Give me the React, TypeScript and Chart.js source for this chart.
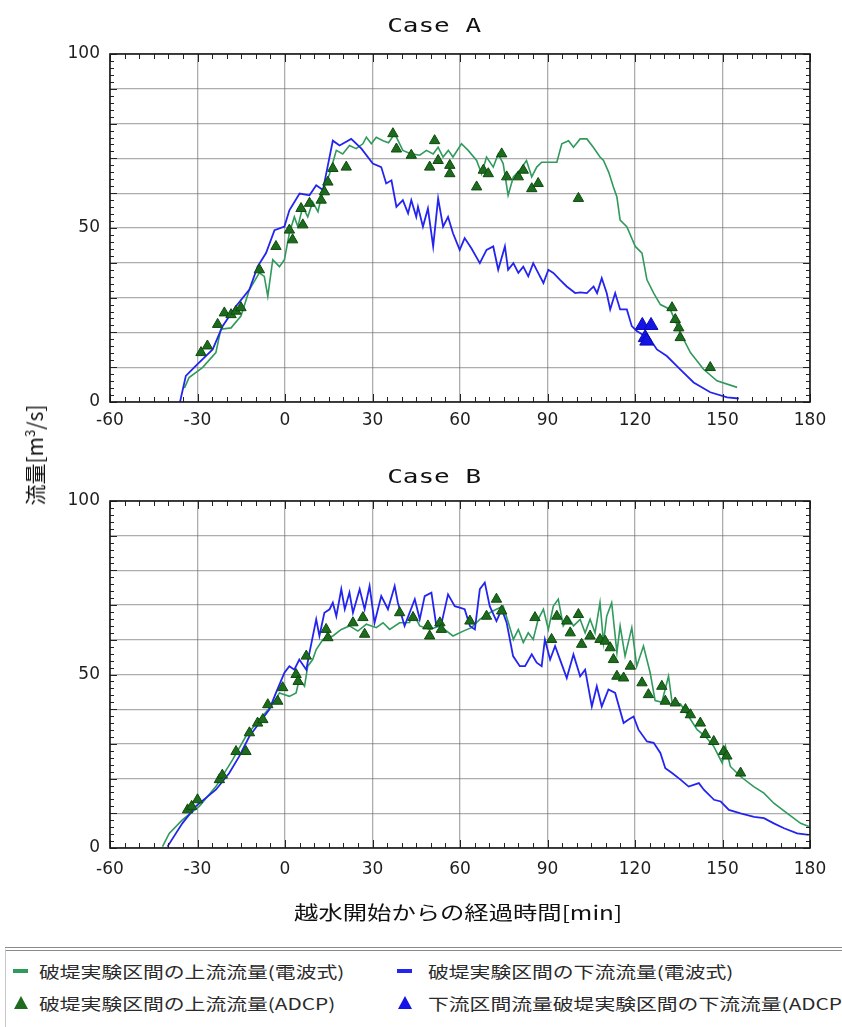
import React, { useEffect, useRef } from 'react';
import { Chart, registerables } from 'chart.js';

Chart.register(...registerables);

// ---------- Case A ----------
const caseA_upLineT = [-34.5, -32.9, -28.3, -23.7, -22.0, -18.5, -15.1, -12.2, -8.8, -7.1, -5.9, -4.2, -1.9, -0.2, 1.5, 3.2, 4.4, 6.1, 7.8, 9.5, 11.3, 13.0, 15.3, 17.6, 19.8, 22.1, 24.4, 26.7, 27.9, 29.6, 31.3, 33.6, 35.5, 37.6, 40.4, 43.3, 46.2, 48.5, 50.8, 52.5, 54.2, 56.0, 57.6, 60.5, 62.8, 65.7, 67.4, 69.1, 71.4, 73.1, 74.8, 76.5, 78.3, 80.5, 82.8, 84.6, 86.3, 88.0, 90.3, 93.2, 94.9, 97.2, 98.9, 101.2, 103.5, 105.7, 108.0, 109.2, 111.0, 112.6, 113.8, 114.9, 117.2, 120.1, 122.4, 124.1, 126.4, 128.7, 132.1, 135.5, 139.0, 143.5, 148.1, 155.0];
const caseA_upLineQ = [4.0, 7.0, 9.9, 14.2, 20.9, 21.3, 24.7, 32.3, 37.1, 36.1, 30.4, 40.9, 38.9, 40.9, 48.5, 53.2, 50.4, 56.1, 53.2, 57.5, 54.7, 60.9, 65.6, 72.3, 71.3, 73.7, 72.8, 74.2, 76.1, 74.2, 76.1, 75.1, 74.5, 77.1, 72.3, 71.3, 70.9, 72.3, 71.3, 73.2, 70.4, 72.3, 70.4, 74.2, 72.3, 69.4, 65.6, 70.4, 67.5, 71.3, 68.5, 59.4, 64.7, 66.6, 69.4, 64.7, 67.5, 68.9, 68.9, 68.9, 74.2, 75.1, 73.2, 75.6, 75.6, 73.2, 70.4, 69.4, 66.0, 61.8, 58.9, 52.3, 50.4, 44.7, 42.8, 35.1, 31.3, 28.0, 26.6, 19.9, 14.2, 9.4, 6.1, 4.2];

const caseA_downLineT = [-36.0, -34.0, -30.6, -24.8, -21.4, -16.8, -12.2, -9.4, -6.5, -3.6, -0.2, 1.5, 5.0, 8.4, 10.7, 13.0, 16.4, 18.7, 22.7, 26.2, 30.1, 33.0, 34.7, 36.5, 38.2, 40.4, 42.2, 43.3, 45.0, 45.6, 47.3, 49.0, 50.8, 52.5, 54.2, 55.9, 57.6, 59.9, 61.6, 63.9, 66.8, 69.1, 71.4, 73.1, 75.4, 76.5, 78.3, 80.0, 81.7, 83.4, 85.1, 86.8, 88.6, 90.3, 92.0, 94.3, 96.6, 99.5, 101.2, 103.5, 105.8, 107.0, 108.6, 110.3, 111.5, 113.2, 114.9, 117.2, 118.9, 120.6, 125.2, 127.5, 130.9, 135.5, 140.1, 145.8, 151.6, 155.6];
const caseA_downLineQ = [0.0, 7.5, 10.4, 15.1, 21.8, 27.5, 32.3, 38.9, 42.8, 49.4, 50.4, 55.1, 59.9, 59.4, 62.3, 60.9, 75.1, 73.7, 75.6, 72.8, 68.5, 67.5, 62.8, 63.7, 56.1, 58.0, 54.2, 58.0, 53.2, 56.1, 50.4, 55.6, 44.7, 58.5, 50.4, 53.2, 48.5, 43.7, 47.1, 44.2, 39.9, 43.7, 44.7, 38.0, 44.7, 38.0, 39.9, 37.1, 38.9, 36.1, 39.9, 37.1, 34.2, 38.0, 37.1, 35.1, 33.2, 31.3, 31.5, 31.3, 33.2, 31.3, 35.6, 31.3, 26.6, 31.3, 26.6, 26.6, 21.8, 20.4, 18.0, 15.1, 13.2, 9.4, 5.6, 2.8, 1.3, 1.0];

const caseA_upAdcpT = [-28.8, -26.6, -23.1, -20.8, -18.5, -16.8, -15.1, -8.8, -3.1, 1.5, 2.6, 5.5, 6.1, 8.4, 12.4, 13.5, 14.7, 16.4, 21.0, 37.0, 38.2, 43.3, 49.6, 51.3, 52.5, 56.5, 56.5, 65.7, 68.0, 69.7, 74.3, 76.0, 80.0, 81.7, 84.6, 86.8, 100.6, 132.7, 133.8, 135.0, 135.5, 145.8];
const caseA_upAdcpQ = [14.2, 16.1, 22.3, 25.6, 25.1, 26.1, 27.1, 38.0, 44.7, 49.4, 46.6, 55.6, 50.9, 57.1, 58.0, 60.4, 63.2, 67.1, 67.5, 77.1, 72.7, 70.9, 67.5, 75.1, 69.4, 68.0, 65.6, 61.8, 66.6, 65.6, 71.3, 64.7, 64.7, 66.6, 61.3, 62.8, 58.5, 27.1, 23.7, 21.3, 18.5, 9.9];

const caseA_downAdcpT = [122.5, 125.5, 123.5, 124.0];
const caseA_downAdcpQ = [22.0, 22.0, 18.5, 17.5];

// ---------- Case B ----------
const caseB_upLineT = [-42.0, -39.7, -35.2, -29.4, -23.7, -18.0, -13.4, -8.8, -4.8, -1.9, 1.5, 3.8, 4.9, 6.7, 7.8, 9.5, 10.7, 13.0, 16.4, 19.3, 22.1, 25.0, 27.9, 31.3, 33.6, 35.9, 39.3, 42.7, 43.9, 46.2, 49.6, 53.1, 57.6, 61.1, 63.9, 66.8, 70.2, 72.5, 74.8, 76.6, 78.3, 80.0, 81.7, 83.4, 85.1, 86.8, 88.6, 90.3, 92.0, 93.7, 95.4, 97.2, 98.9, 101.2, 102.9, 104.6, 106.3, 108.0, 109.2, 110.3, 112.0, 113.8, 114.9, 116.6, 118.9, 120.6, 122.9, 125.2, 126.9, 129.2, 131.5, 132.7, 135.6, 138.4, 141.3, 144.1, 147.0, 149.9, 151.0, 152.7, 156.2, 160.7, 164.2, 167.6, 172.2, 176.8, 179.6];
const caseB_upLineQ = [0.4, 4.2, 8.1, 12.0, 17.7, 25.4, 32.2, 37.0, 40.8, 44.7, 43.7, 44.7, 48.6, 46.6, 52.4, 54.3, 57.2, 60.1, 61.1, 63.0, 64.0, 62.5, 64.5, 63.5, 64.9, 63.0, 64.9, 65.0, 67.8, 64.0, 63.0, 64.0, 61.1, 62.5, 63.5, 65.9, 67.8, 68.8, 69.7, 64.9, 60.1, 63.0, 59.2, 62.0, 60.1, 65.9, 68.8, 63.0, 69.7, 71.7, 64.0, 66.4, 64.0, 65.9, 62.0, 65.9, 62.0, 70.7, 59.2, 66.8, 70.7, 56.3, 64.0, 55.3, 63.5, 52.4, 58.2, 50.5, 42.5, 42.0, 49.5, 42.0, 41.5, 37.9, 34.1, 32.2, 29.3, 24.5, 29.3, 23.5, 20.6, 17.7, 15.8, 12.9, 10.0, 7.1, 6.2];

const caseB_downLineT = [-40.3, -35.2, -30.6, -23.7, -19.1, -15.7, -12.2, -8.8, -5.4, -3.1, -0.2, 1.5, 3.2, 4.9, 7.3, 8.4, 10.7, 11.8, 13.5, 15.3, 16.4, 17.6, 19.3, 20.5, 22.1, 23.3, 25.6, 27.3, 29.0, 30.7, 33.0, 35.3, 37.6, 38.7, 41.0, 44.5, 46.2, 47.9, 50.2, 51.9, 53.6, 55.9, 58.2, 59.9, 61.6, 63.4, 65.1, 66.8, 68.5, 70.2, 72.5, 74.3, 76.0, 78.2, 80.5, 82.3, 84.6, 86.3, 88.0, 89.1, 90.9, 92.6, 94.3, 96.6, 98.9, 101.2, 102.9, 105.2, 106.9, 108.6, 110.9, 113.2, 116.1, 117.8, 119.5, 121.2, 124.1, 126.4, 128.7, 130.4, 132.7, 135.6, 138.4, 141.9, 143.6, 147.1, 149.4, 152.2, 156.2, 160.8, 164.2, 167.6, 171.1, 175.6, 179.6];
const caseB_downLineQ = [0.4, 7.1, 12.0, 16.8, 21.6, 26.4, 32.2, 36.0, 39.9, 44.7, 50.5, 52.4, 51.4, 54.3, 51.4, 56.3, 65.9, 61.1, 67.8, 68.8, 70.7, 66.8, 74.6, 68.8, 73.6, 67.8, 74.6, 68.8, 75.5, 64.9, 72.6, 68.8, 75.5, 70.7, 64.0, 71.7, 65.9, 72.6, 73.6, 64.0, 64.5, 73.1, 69.7, 69.3, 68.8, 64.0, 63.0, 74.6, 76.5, 69.7, 65.4, 68.8, 64.9, 55.3, 52.4, 52.4, 55.8, 53.4, 52.4, 60.1, 54.3, 58.2, 54.3, 49.0, 55.8, 49.5, 51.4, 40.8, 46.6, 40.8, 45.7, 44.7, 36.0, 37.0, 37.9, 34.1, 30.7, 30.3, 27.4, 23.0, 21.6, 19.7, 17.7, 18.7, 16.8, 13.9, 13.4, 11.0, 10.0, 9.0, 8.6, 7.1, 5.7, 4.2, 3.8];

const caseB_upAdcpT = [-33.4, -32.0, -30.0, -22.5, -21.5, -16.8, -13.4, -12.2, -9.4, -7.6, -5.9, -2.5, -0.8, 3.8, 4.5, 7.3, 14.1, 14.7, 23.3, 26.7, 27.3, 39.3, 43.9, 49.0, 49.6, 53.1, 53.6, 63.4, 69.1, 72.5, 74.3, 85.7, 91.4, 93.2, 96.6, 97.8, 100.6, 101.7, 104.6, 108.0, 109.8, 111.5, 112.6, 113.8, 116.1, 118.4, 122.4, 124.6, 129.2, 130.4, 133.8, 137.3, 139.0, 142.4, 144.1, 147.0, 150.4, 151.5, 156.2];
const caseB_upAdcpQ = [11.0, 12.0, 13.9, 19.7, 21.0, 27.8, 27.8, 33.2, 36.0, 37.0, 41.3, 42.3, 46.2, 50.0, 48.0, 55.3, 63.0, 60.6, 64.9, 66.4, 61.6, 67.8, 66.4, 64.0, 61.1, 64.9, 63.0, 65.4, 66.8, 71.7, 68.3, 66.4, 60.1, 66.8, 65.4, 62.0, 67.3, 58.7, 61.1, 60.1, 59.6, 57.7, 54.3, 49.5, 49.0, 52.4, 47.6, 44.2, 46.6, 42.3, 41.8, 39.9, 38.4, 36.0, 32.7, 30.7, 27.8, 26.5, 21.6];

// ---------- axes / labels ----------
const xTickValues = [-60, -30, 0, 30, 60, 90, 120, 150, 180];
const yLabelValues = [0, 50, 100];
const titleA = 'Case A';
const titleB = 'Case B';
const xAxisTitle = '越水開始からの経過時間[min]';
const legendLabels = [
  '破堤実験区間の上流流量(電波式)',
  '破堤実験区間の下流流量(電波式)',
  '破堤実験区間の上流流量(ADCP)',
  '下流区間流量破堤実験区間の下流流量(ADCP)',
];

const GREEN_LINE = '#2f9a5c';
const BLUE_LINE = '#2424f0';
const GREEN_TRI = '#1d6b1d';
const BLUE_TRI = '#1414e6';

function pts(t: number[], q: number[]) {
  return t.map((x, i) => ({ x, y: q[i] }));
}

const framePlugin = {
  id: 'frameTicks',
  afterDraw(chart: any) {
    const { ctx, chartArea: a, scales } = chart;
    const xs = scales.x;
    const ys = scales.y;
    ctx.save();
    ctx.strokeStyle = '#222';
    ctx.lineWidth = 1;
    ctx.beginPath();
    for (let v = xs.min; v <= xs.max; v += 5) {
      const px = Math.round(xs.getPixelForValue(v)) + 0.5;
      const len = v % 30 === 0 ? 8 : 5;
      ctx.moveTo(px, a.bottom);
      ctx.lineTo(px, a.bottom - len);
      ctx.moveTo(px, a.top);
      ctx.lineTo(px, a.top + len);
    }
    for (let v = ys.min; v <= ys.max; v += 2) {
      const py = Math.round(ys.getPixelForValue(v)) + 0.5;
      const len = v % 10 === 0 ? 7 : 4;
      ctx.moveTo(a.left, py);
      ctx.lineTo(a.left + len, py);
      ctx.moveTo(a.right, py);
      ctx.lineTo(a.right - len, py);
    }
    ctx.stroke();
    ctx.lineWidth = 1.6;
    ctx.strokeStyle = '#1a1a1a';
    ctx.strokeRect(a.left, a.top, a.right - a.left, a.bottom - a.top);
    ctx.restore();
  },
};

function makeConfig(
  upLine: { x: number; y: number }[],
  downLine: { x: number; y: number }[],
  upAdcp: { x: number; y: number }[],
  downAdcp: { x: number; y: number }[],
  xAxisHeight: number,
  xTickPad: number
): any {
  const datasets: any[] = [
    {
      label: legendLabels[0],
      data: upLine,
      showLine: true,
      borderColor: GREEN_LINE,
      borderWidth: 1.6,
      pointRadius: 0,
      order: 3,
    },
    {
      label: legendLabels[1],
      data: downLine,
      showLine: true,
      borderColor: BLUE_LINE,
      borderWidth: 1.8,
      pointRadius: 0,
      order: 2,
    },
    {
      label: legendLabels[2],
      data: upAdcp,
      showLine: false,
      pointStyle: 'triangle',
      pointRadius: 6,
      backgroundColor: GREEN_TRI,
      borderColor: '#0f4a0f',
      borderWidth: 1,
      order: 1,
    },
  ];
  if (downAdcp.length) {
    datasets.push({
      label: legendLabels[3],
      data: downAdcp,
      showLine: false,
      pointStyle: 'triangle',
      pointRadius: 8,
      backgroundColor: BLUE_TRI,
      borderColor: '#0a0ab0',
      borderWidth: 1,
      order: 0,
    });
  }
  return {
    type: 'scatter',
    data: { datasets },
    options: {
      responsive: false,
      animation: false,
      events: [],
      layout: { padding: { left: 0, right: 32, top: 54, bottom: 0 } },
      plugins: {
        legend: { display: false },
        tooltip: { enabled: false },
        title: { display: false },
      },
      scales: {
        x: {
          type: 'linear',
          min: xTickValues[0],
          max: xTickValues[xTickValues.length - 1],
          afterBuildTicks: (s: any) => {
            s.ticks = xTickValues.map((v) => ({ value: v }));
          },
          afterFit: (s: any) => {
            s.height = xAxisHeight;
          },
          ticks: {
            autoSkip: false,
            maxRotation: 0,
            padding: xTickPad,
            color: '#1e1e1e',
            font: { family: 'DejaVu Sans', size: 17 },
          },
          grid: { color: 'rgba(105,105,105,0.55)', lineWidth: 1.3, drawTicks: false },
          border: { display: false },
        },
        y: {
          type: 'linear',
          min: 0,
          max: 100,
          ticks: {
            stepSize: 10,
            autoSkip: false,
            padding: 10,
            color: '#1e1e1e',
            font: { family: 'DejaVu Sans', size: 17 },
            callback: (v: any) => (yLabelValues.includes(Number(v)) ? String(v) : ''),
          },
          afterFit: (s: any) => {
            s.width = 110;
          },
          grid: { color: 'rgba(105,105,105,0.55)', lineWidth: 1.3, drawTicks: false },
          border: { display: false },
        },
      },
    },
    plugins: [framePlugin],
  };
}

function ChartCanvas(props: { width: number; height: number; config: () => any; style: React.CSSProperties }) {
  const ref = useRef<HTMLCanvasElement | null>(null);
  useEffect(() => {
    if (!ref.current) return;
    const chart = new Chart(ref.current, props.config());
    return () => chart.destroy();
  }, []);
  return <canvas ref={ref} width={props.width} height={props.height} style={{ position: 'absolute', ...props.style }} />;
}

const stretchText = (scale: number): React.CSSProperties => ({
  display: 'inline-block',
  transform: `scaleX(${scale})`,
  whiteSpace: 'nowrap',
});

function LegendLine({ color }: { color: string }) {
  return <span style={{ position: 'absolute', width: 15, height: 4, background: color, left: 0, top: -2 }} />;
}
function LegendTri({ color }: { color: string }) {
  return (
    <span
      style={{
        position: 'absolute',
        left: 1,
        top: -7,
        width: 0,
        height: 0,
        borderLeft: '7px solid transparent',
        borderRight: '7px solid transparent',
        borderBottom: `13px solid ${color}`,
      }}
    />
  );
}

export default function App() {
  const legendText: React.CSSProperties = {
    position: 'absolute',
    fontFamily: '"Noto Sans CJK JP", sans-serif',
    fontSize: 16,
    color: '#2a2a2a',
    whiteSpace: 'nowrap',
    transform: 'scaleX(1.3)',
    transformOrigin: 'left center',
    lineHeight: '20px',
    top: -10,
  };
  return (
    <div
      style={{
        position: 'absolute',
        left: 0,
        top: 0,
        width: 842,
        height: 1027,
        overflow: 'hidden',
        background: '#ffffff',
      }}
    >
      <ChartCanvas
        width={842}
        height={440}
        style={{ left: 0, top: 0 }}
        config={() =>
          makeConfig(
            pts(caseA_upLineT, caseA_upLineQ),
            pts(caseA_downLineT, caseA_downLineQ),
            pts(caseA_upAdcpT, caseA_upAdcpQ),
            pts(caseA_downAdcpT, caseA_downAdcpQ),
            38,
            8
          )
        }
      />
      <ChartCanvas
        width={842}
        height={493}
        style={{ left: 0, top: 447 }}
        config={() =>
          makeConfig(
            pts(caseB_upLineT, caseB_upLineQ),
            pts(caseB_downLineT, caseB_downLineQ),
            pts(caseB_upAdcpT, caseB_upAdcpQ),
            [],
            92,
            11
          )
        }
      />

      {/* chart titles */}
      <div style={{ position: 'absolute', left: 334, width: 200, top: 12, textAlign: 'center', fontFamily: '"DejaVu Sans Mono", monospace', fontSize: 20, lineHeight: '26px', color: '#111' }}>
        <span style={stretchText(1.3)}>{titleA}</span>
      </div>
      <div style={{ position: 'absolute', left: 334, width: 200, top: 463, textAlign: 'center', fontFamily: '"DejaVu Sans Mono", monospace', fontSize: 20, lineHeight: '26px', color: '#111' }}>
        <span style={stretchText(1.3)}>{titleB}</span>
      </div>

      {/* x axis title */}
      <div style={{ position: 'absolute', left: 258, width: 400, top: 899, textAlign: 'center', fontFamily: '"Noto Sans CJK JP", sans-serif', fontSize: 19, lineHeight: '26px', color: '#111' }}>
        <span style={stretchText(1.28)}>{xAxisTitle}</span>
      </div>

      {/* y axis title */}
      <div
        style={{
          position: 'absolute',
          left: 32,
          top: 455,
          transform: 'translate(-50%, -50%) rotate(-90deg)',
          fontFamily: '"Noto Sans CJK JP", sans-serif',
          fontSize: 21,
          lineHeight: '24px',
          color: '#111',
          whiteSpace: 'nowrap',
        }}
      >
        流量[m<sup style={{ fontSize: 13 }}>3</sup>/s]
      </div>

      {/* legend */}
      <div
        style={{
          position: 'absolute',
          left: 5,
          top: 947,
          width: 850,
          height: 90,
          borderTop: '4px double #8a8a8a',
          borderLeft: '1px solid #c8c8c8',
          background: '#fff',
        }}
      />
      <div style={{ position: 'absolute', left: 13, top: 971 }}>
        <LegendLine color={GREEN_LINE} />
        <span style={{ ...legendText, left: 26 }}>{legendLabels[0]}</span>
      </div>
      <div style={{ position: 'absolute', left: 397, top: 971 }}>
        <LegendLine color={BLUE_LINE} />
        <span style={{ ...legendText, left: 31 }}>{legendLabels[1]}</span>
      </div>
      <div style={{ position: 'absolute', left: 13, top: 1003 }}>
        <LegendTri color={GREEN_TRI} />
        <span style={{ ...legendText, left: 26 }}>{legendLabels[2]}</span>
      </div>
      <div style={{ position: 'absolute', left: 397, top: 1003 }}>
        <LegendTri color={BLUE_TRI} />
        <span style={{ ...legendText, left: 31 }}>{legendLabels[3]}</span>
      </div>
    </div>
  );
}
